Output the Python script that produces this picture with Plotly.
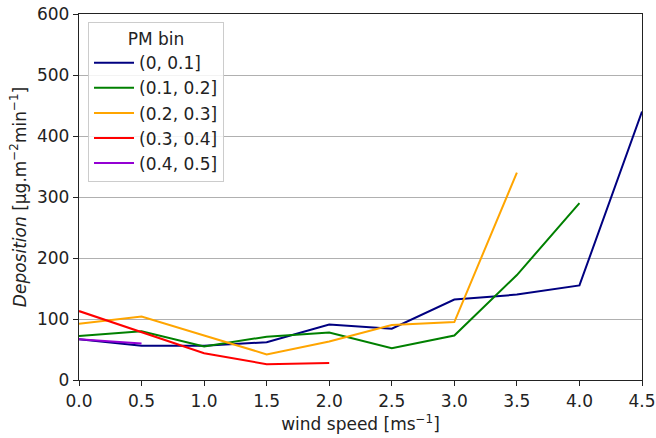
import plotly.graph_objects as go

wind = [0.0, 0.5, 1.0, 1.5, 2.0, 2.5, 3.0, 3.5, 4.0, 4.5]
bins = ["(0, 0.1]", "(0.1, 0.2]", "(0.2, 0.3]", "(0.3, 0.4]", "(0.4, 0.5]"]
dep_0 = [67, 56, 56, 62, 91, 84, 132, 140, 155, 440]
dep_1 = [72, 80, 55, 71, 78, 52, 73, 172, 290]
dep_2 = [92, 104, 73, 42, 63, 90, 95, 340]
dep_3 = [113, 78, 44, 26, 28]
dep_4 = [67, 60]
series = [dep_0, dep_1, dep_2, dep_3, dep_4]
colors = ["#000080", "#008000", "#FFA500", "#FF0000", "#9400D3"]

fig = go.Figure()
for name, vals, c in zip(bins, series, colors):
    fig.add_trace(go.Scatter(x=wind[:len(vals)], y=vals, mode="lines", name=name,
                             line=dict(color=c, width=2)))

font = "DejaVu Sans"
fs = 17
fig.update_layout(
    width=656, height=438,
    margin=dict(l=79, r=14, t=14, b=58, autoexpand=False),
    plot_bgcolor="white", paper_bgcolor="white",
    font=dict(family=font, size=fs, color="#222"),
    showlegend=True,
    legend=dict(title=dict(text="PM bin", side="top center", font=dict(size=fs)),
                x=0.016, y=0.978, xanchor="left", yanchor="top",
                bgcolor="rgba(255,255,255,0.85)", bordercolor="#cccccc", borderwidth=1,
                font=dict(size=fs), tracegroupgap=0, itemwidth=40),
    xaxis=dict(range=[0, 4.5], tickvals=wind, ticktext=[f"{v:.1f}" for v in wind],
               showgrid=False, showline=True, linecolor="#222", linewidth=1.3, mirror=True,
               ticks="outside", ticklen=5, tickcolor="#222", zeroline=False,
               tickfont=dict(size=fs), automargin=False,
               title=dict(text="wind speed [ms<sup>−1</sup>]", standoff=8, font=dict(size=fs))),
    yaxis=dict(range=[0, 600], tickvals=[0, 100, 200, 300, 400, 500, 600],
               showgrid=True, gridcolor="#b0b0b0", gridwidth=1,
               showline=True, linecolor="#222", linewidth=1.3, mirror=True,
               ticks="outside", ticklen=5, tickcolor="#222", zeroline=False,
               tickfont=dict(size=fs), automargin=False,
               title=dict(text="<i>Deposition</i> [μg.m<sup>−2</sup>min<sup>−1</sup>]", standoff=6,
                          font=dict(size=fs))),
)
fig.write_html("out.html", config={"displayModeBar": False},
               post_script="document.body.style.margin='0';document.body.style.overflow='hidden';")
